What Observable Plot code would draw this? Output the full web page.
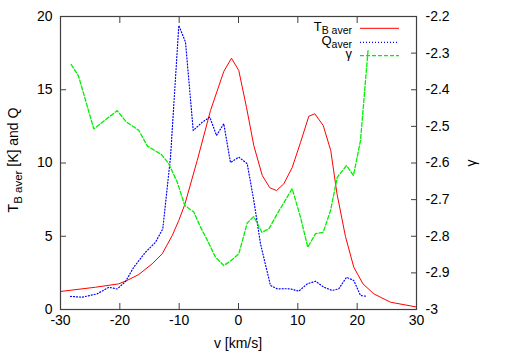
<!DOCTYPE html>
<html>
<head>
<meta charset="utf-8">
<script src="https://cdn.jsdelivr.net/npm/d3@7"></script>
<script src="https://cdn.jsdelivr.net/npm/@observablehq/plot@0.6"></script>
<style>
  html, body { margin: 0; padding: 0; background: #fff; }
  #chart { width: 506px; height: 354px; }
</style>
</head>
<body>
<div id="chart"></div>
<script>
// ---- data ----
const vT = [-30, -24.1, -20.2, -18.8, -16.8, -14.55, -12.86, -11.17, -10.06, -9.05, -6.96, -4.72, -2.48, -1.18, 0.05, 1.35, 2.58, 4.0, 5.28, 6.41, 7.64, 9.05, 10.45, 11.85, 12.86, 14.28, 15.55, 16.6, 18.03, 19.43, 20.98, 22.8, 25.6, 30];
const T  = [1.23, 1.52, 1.75, 1.98, 2.39, 3.12, 3.80, 5.05, 6.08, 7.17, 10.17, 13.58, 16.25, 17.15, 16.31, 13.8, 11.19, 9.15, 8.31, 8.12, 8.58, 9.69, 11.4, 13.19, 13.36, 12.56, 10.85, 7.9, 4.98, 2.89, 1.75, 1.07, 0.50, 0.17];

const vQ = [-28.31, -26.34, -23.81, -21.86, -20.44, -19.04, -17.65, -15.67, -13.99, -12.76, -11.46, -10.06, -8.93, -7.63, -6.12, -4.84, -3.71, -2.48, -1.35, 0.05, 1.47, 2.58, 3.71, 5.39, 6.52, 7.6, 8.76, 10.16, 11.58, 12.98, 14.38, 15.79, 16.9, 18.2, 19.43, 20.56, 21.69];
const Q  = [0.89, 0.84, 1.07, 1.52, 1.40, 1.91, 2.89, 3.91, 4.59, 5.51, 10.4, 19.39, 18.25, 12.22, 12.78, 13.13, 11.88, 12.68, 10.03, 10.4, 9.95, 7.44, 4.48, 1.64, 1.41, 1.42, 1.41, 1.25, 1.75, 1.93, 1.52, 1.30, 1.41, 2.20, 1.98, 0.96, 0.89];

const vG = [-28.2, -26.97, -24.39, -20.44, -18.96, -16.8, -15.34, -12.98, -11.75, -10.33, -9.05, -7.53, -6.4, -5.22, -3.88, -2.48, -1.23, 0.05, 1.47, 2.58, 3.93, 5.11, 6.52, 9.05, 10.45, 11.68, 12.98, 14.28, 15.51, 16.64, 18.2, 19.38, 20.56, 21.83];
const G  = [-2.331, -2.362, -2.507, -2.457, -2.487, -2.511, -2.554, -2.577, -2.602, -2.652, -2.716, -2.734, -2.775, -2.812, -2.857, -2.880, -2.866, -2.848, -2.764, -2.746, -2.789, -2.780, -2.739, -2.670, -2.748, -2.830, -2.793, -2.789, -2.730, -2.639, -2.607, -2.634, -2.539, -2.293];

const xTicks = [-30, -20, -10, 0, 10, 20, 30];
const yTicks = [0, 5, 10, 15, 20];
const gTicks = [-3, -2.9, -2.8, -2.7, -2.6, -2.5, -2.4, -2.3, -2.2];
const yDomain = [0, 20];
const gDomain = [-3, -2.2];

// ---- build tables ----
const toLeft = g => yDomain[0] + (g - gDomain[0]) / (gDomain[1] - gDomain[0]) * (yDomain[1] - yDomain[0]);
const tData = vT.map((v, i) => ({v, y: T[i]}));
const qData = vQ.map((v, i) => ({v, y: Q[i]}));
const gData = vG.map((v, i) => ({v, y: toLeft(G[i])}));
const gTickPos = gTicks.map(toLeft);
const gLabel = new Map(gTickPos.map((p, i) => [p, String(gTicks[i])]));

const font = "'Liberation Sans', Arial, Helvetica, sans-serif";
const RED = "#ff0000", BLUE = "#0000ff", GREEN = "#00ee00";
const TICK = 6, AX = "#404040";

const chart = Plot.plot({
  width: 506,
  height: 354,
  marginLeft: 60,
  marginRight: 90,
  marginTop: 16,
  marginBottom: 45,
  style: {fontSize: "14px", fontFamily: font, background: "#fff", color: "#000"},
  x: {domain: [-30, 30]},
  y: {domain: yDomain},
  marks: [
    Plot.line(tData, {x: "v", y: "y", stroke: RED, strokeWidth: 1}),
    Plot.line(qData, {x: "v", y: "y", stroke: BLUE, strokeWidth: 1.2, strokeDasharray: "1,2"}),
    Plot.line(gData, {x: "v", y: "y", stroke: GREEN, strokeWidth: 1.3, strokeDasharray: "4,2"}),
    Plot.frame({stroke: AX, strokeWidth: 1.2}),
    // bottom axis labels and inward ticks
    Plot.axisX(xTicks, {anchor: "bottom", tickSize: 0, tickPadding: 6, tickFormat: d => String(d), label: null}),
    Plot.axisX(xTicks, {anchor: "bottom", tickSize: TICK, dy: -TICK, fill: "none", label: null, stroke: AX}),
    Plot.axisX(xTicks, {anchor: "top", tickSize: TICK, dy: TICK, fill: "none", label: null, stroke: AX}),
    // left axis
    Plot.axisY(yTicks, {anchor: "left", tickSize: 0, tickPadding: 8, tickFormat: d => String(d), label: null}),
    Plot.axisY(yTicks, {anchor: "left", tickSize: TICK, dx: TICK, fill: "none", label: null, stroke: AX}),
    // right axis (gamma)
    Plot.axisY(gTickPos, {anchor: "right", tickSize: 0, tickPadding: 9, tickFormat: d => gLabel.get(d), label: null}),
    Plot.axisY(gTickPos, {anchor: "right", tickSize: TICK, dx: -TICK, fill: "none", label: null, stroke: AX})
  ]
});

document.getElementById("chart").appendChild(chart);

// ---- axis titles and key ----
const svg = d3.select(chart);
const g = svg.append("g").attr("font-family", font).attr("font-size", 14).attr("fill", "#000");

g.append("text").attr("x", 238).attr("y", 348).attr("text-anchor", "middle").text("v [km/s]");

const yl = g.append("text").attr("transform", "translate(18,160) rotate(-90)").attr("text-anchor", "middle");
yl.append("tspan").text("T");
yl.append("tspan").attr("dy", 4).attr("font-size", 11.5).text("B aver");
yl.append("tspan").attr("dy", -4).text(" [K] and Q");

g.append("text").attr("transform", "translate(476,163) rotate(-90)").attr("text-anchor", "middle").text("γ");

const key = [
  {main: "T", sub: "B aver", color: RED, dash: null, width: 1, y: 28.3},
  {main: "Q", sub: "aver", color: BLUE, dash: "1,2", width: 1.2, y: 42.3},
  {main: "γ", sub: null, color: GREEN, dash: "4,2", width: 1.3, y: 55.7}
];
key.forEach(k => {
  const t = g.append("text").attr("x", 352).attr("y", k.y + 2.5).attr("text-anchor", "end").attr("font-size", 13);
  t.append("tspan").text(k.main);
  if (k.sub) t.append("tspan").attr("dy", 3.5).attr("font-size", 10.5).text(k.sub);
  const l = g.append("line").attr("x1", 360).attr("x2", 399).attr("y1", k.y).attr("y2", k.y)
    .attr("stroke", k.color).attr("stroke-width", k.width);
  if (k.dash) l.attr("stroke-dasharray", k.dash);
});
</script>
</body>
</html>
